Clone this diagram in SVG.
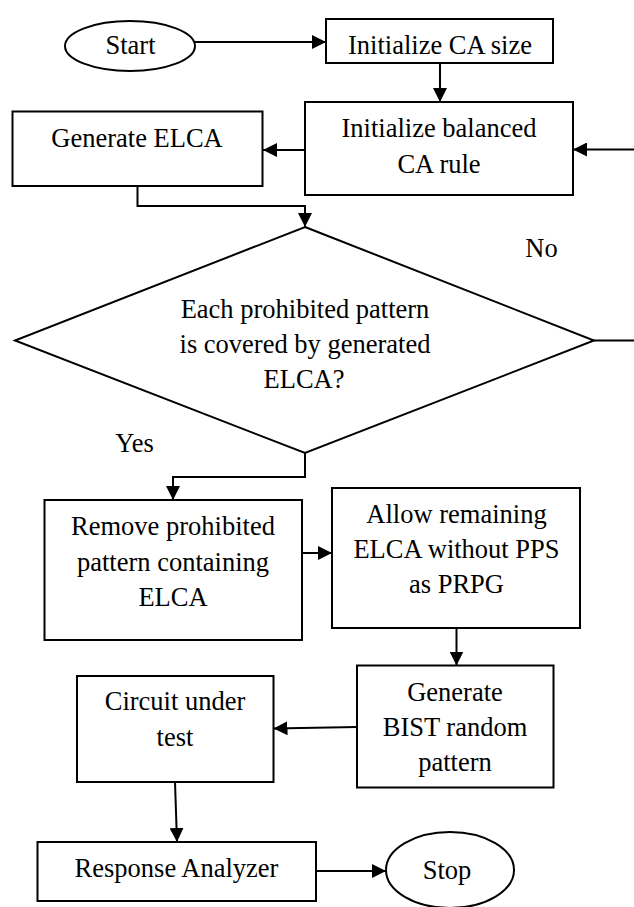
<svg xmlns="http://www.w3.org/2000/svg" width="634" height="907" viewBox="0 0 634 907">
  <style>
    .shape { fill: #ffffff; stroke: #000000; stroke-width: 2; }
    .link { fill: none; stroke: #000000; stroke-width: 2; }
    .label { font-family: "Liberation Serif", "Times New Roman", serif; font-size: 26.5px; fill: #000000; text-anchor: middle; }
  </style>
  <defs>
    <marker id="arrow" markerUnits="userSpaceOnUse" markerWidth="14" markerHeight="14" refX="14" refY="7" orient="auto">
      <path d="M0,0 L14,7 L0,14 z" fill="#000000"/>
    </marker>
  </defs>

  <rect width="634" height="907" fill="#ffffff"/>

  <!-- connectors -->
  <g id="connectors">
    <path class="link" d="M194,42 H326" marker-end="url(#arrow)"/>
    <path class="link" d="M440,63 V102" marker-end="url(#arrow)"/>
    <path class="link" d="M634,149.5 H573" marker-end="url(#arrow)"/>
    <path class="link" d="M305,150 H263" marker-end="url(#arrow)"/>
    <path class="link" d="M137.5,186 V206 H305 V227" marker-end="url(#arrow)"/>
    <path class="link" d="M594,340.5 H634"/>
    <path class="link" d="M305,453 V477 H173 V500" marker-end="url(#arrow)"/>
    <path class="link" d="M302,553 H332" marker-end="url(#arrow)"/>
    <path class="link" d="M456.5,628 V665.5" marker-end="url(#arrow)"/>
    <path class="link" d="M357,727 L273.5,728.5" marker-end="url(#arrow)"/>
    <path class="link" d="M175,782 L177,842" marker-end="url(#arrow)"/>
    <path class="link" d="M316,871 H386" marker-end="url(#arrow)"/>
  </g>

  <g id="start">
    <ellipse class="shape" cx="130" cy="46" rx="65" ry="25"/>
    <text class="label" x="130.5" y="54">Start</text>
  </g>

  <g id="init-size">
    <rect class="shape" x="326" y="19" width="227" height="44"/>
    <text class="label" x="440" y="54">Initialize CA size</text>
  </g>

  <g id="init-rule">
    <rect class="shape" x="305" y="102" width="268" height="93"/>
    <text class="label" x="439" y="137">Initialize balanced</text>
    <text class="label" x="439" y="173">CA rule</text>
  </g>

  <g id="generate-elca">
    <rect class="shape" x="12.5" y="111.5" width="250" height="74.5"/>
    <text class="label" x="137" y="147">Generate ELCA</text>
  </g>

  <g id="decision">
    <polygon class="shape" points="305,227 594,340.5 305,453 15,340.5"/>
    <text class="label" x="305" y="318">Each prohibited pattern</text>
    <text class="label" x="305" y="353">is covered by generated</text>
    <text class="label" x="304" y="388">ELCA?</text>
  </g>

  <text class="label" x="541.5" y="257">No</text>
  <text class="label" x="134.5" y="452">Yes</text>

  <g id="remove">
    <rect class="shape" x="44.5" y="500" width="257.5" height="140"/>
    <text class="label" x="173" y="535">Remove prohibited</text>
    <text class="label" x="173" y="570.5">pattern containing</text>
    <text class="label" x="173" y="605.5">ELCA</text>
  </g>

  <g id="allow">
    <rect class="shape" x="332" y="488" width="248" height="140"/>
    <text class="label" x="456.5" y="523">Allow remaining</text>
    <text class="label" x="456.5" y="558">ELCA without PPS</text>
    <text class="label" x="456.5" y="593">as PRPG</text>
  </g>

  <g id="bist">
    <rect class="shape" x="357" y="665.5" width="196.5" height="122"/>
    <text class="label" x="455" y="701">Generate</text>
    <text class="label" x="455" y="736">BIST random</text>
    <text class="label" x="455" y="771">pattern</text>
  </g>

  <g id="cut">
    <rect class="shape" x="77" y="676" width="196.5" height="106"/>
    <text class="label" x="175" y="710">Circuit under</text>
    <text class="label" x="175" y="746">test</text>
  </g>

  <g id="analyzer">
    <rect class="shape" x="37.5" y="842" width="278.5" height="59"/>
    <text class="label" x="176.5" y="877">Response Analyzer</text>
  </g>

  <g id="stop">
    <ellipse class="shape" cx="450" cy="870" rx="64" ry="38"/>
    <text class="label" x="447" y="879">Stop</text>
  </g>
</svg>
